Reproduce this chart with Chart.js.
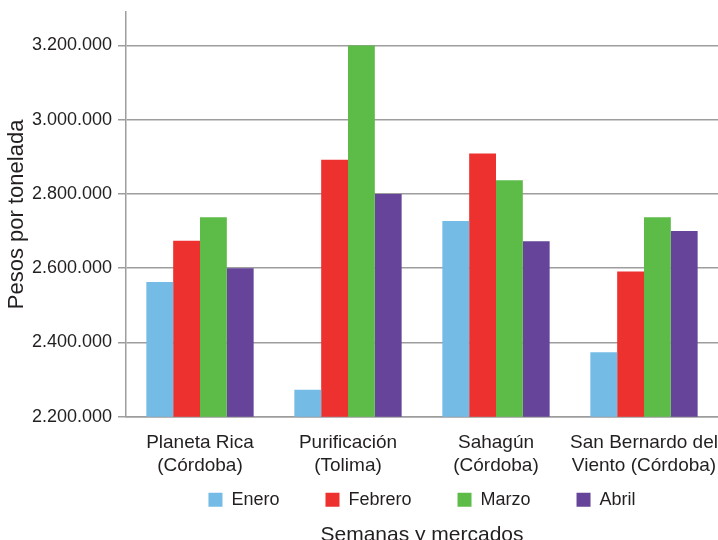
<!DOCTYPE html>
<html>
<head>
<meta charset="utf-8">
<script src="https://cdn.jsdelivr.net/npm/chart.js@4"></script>
<style>
  html, body { margin: 0; padding: 0; background: #fff; }
  #wrap { width: 718px; height: 540px; }
</style>
</head>
<body>
<div id="wrap"><canvas id="precios"></canvas></div>
<script>
// Mercados (categorias del eje x)
const mercados = [
    ["Planeta Rica", "(Córdoba)"],
    ["Purificación", "(Tolima)"],
    ["Sahagún", "(Córdoba)"],
    ["San Bernardo del", "Viento (Córdoba)"],
];

// Precio en pesos por tonelada, por mes
const enero = [2563000, 2273000, 2727000, 2374000];
const febrero = [2674000, 2892000, 2909000, 2591000];
const marzo = [2737000, 3200000, 2837000, 2737000];
const abril = [2600000, 2800000, 2673000, 2700000];

// Marcas del eje y
const yTicks = [2200000, 2400000, 2600000, 2800000, 3000000, 3200000];
const yMin = 2200000;
const yMax = 3290000;

const texto = '#231f20';
const gris = '#9d9d9d';

Chart.defaults.font.family = '"Liberation Sans", Arial, sans-serif';
Chart.defaults.color = texto;

// Numero con punto de miles: 3200000 -> 3.200.000
function conPuntos(v) {
    return Math.round(v).toString().replace(/\B(?=(\d{3})+(?!\d))/g, '.');
}

const ctx = document.getElementById('precios').getContext('2d');
const myChart = new Chart(ctx, {
    type: 'bar',
    data: {
        labels: mercados,
        datasets: [
            { label: 'Enero', data: enero, backgroundColor: '#74bbe6' },
            { label: 'Febrero', data: febrero, backgroundColor: '#ec312e' },
            { label: 'Marzo', data: marzo, backgroundColor: '#5dbb48' },
            { label: 'Abril', data: abril, backgroundColor: '#654499' },
        ],
    },
    options: {
        responsive: true,
        maintainAspectRatio: false,
        animation: false,
        layout: { padding: { top: 12, left: 0, right: 0, bottom: 0 } },
        datasets: {
            bar: { categoryPercentage: 0.725, barPercentage: 1, borderWidth: 0 },
        },
        scales: {
            x: {
                grid: { display: false, drawTicks: false },
                border: { display: true, color: gris, width: 1.5 },
                ticks: {
                    padding: 15,
                    font: { size: 19, lineHeight: 1.18 },
                    color: texto,
                    maxRotation: 0,
                    autoSkip: false,
                },
                afterFit: axis => {
                    axis.height = 28;
                    axis.paddingLeft = 0;
                    axis.paddingRight = 0;
                    // the two-line labels go below the short axis box, so no clipping
                    axis._computeLabelArea = () => null;
                },
            },
            y: {
                min: yMin,
                max: yMax,
                grid: { color: gris, lineWidth: 1.5, tickLength: 8 },
                border: { display: true, color: gris, width: 1.5 },
                ticks: {
                    padding: 6,
                    font: { size: 18 },
                    color: texto,
                    callback: v => conPuntos(v),
                },
                // chart.js ignores stepSize when max is not on a step, so set the ticks by hand
                afterBuildTicks: axis => {
                    axis.ticks = yTicks.map(v => ({ value: v }));
                },
                afterFit: axis => {
                    axis.width = 126;
                    axis.paddingTop = 0;
                    axis.paddingBottom = 0;
                },
                title: {
                    display: true,
                    text: 'Pesos por tonelada',
                    font: { size: 22 },
                    color: texto,
                    padding: { top: 4, bottom: 0 },
                },
            },
        },
        plugins: {
            legend: {
                position: 'bottom',
                fullSize: false,
                labels: {
                    boxWidth: 14,
                    boxHeight: 14,
                    padding: 46,
                    font: { size: 18 },
                    color: texto,
                },
            },
            title: {
                display: true,
                position: 'bottom',
                fullSize: false,
                text: 'Semanas y mercados',
                font: { size: 21, weight: 'normal' },
                color: texto,
                padding: { top: 4, bottom: -8 },
            },
            tooltip: { enabled: false },
        },
    },
});
</script>
</body>
</html>
